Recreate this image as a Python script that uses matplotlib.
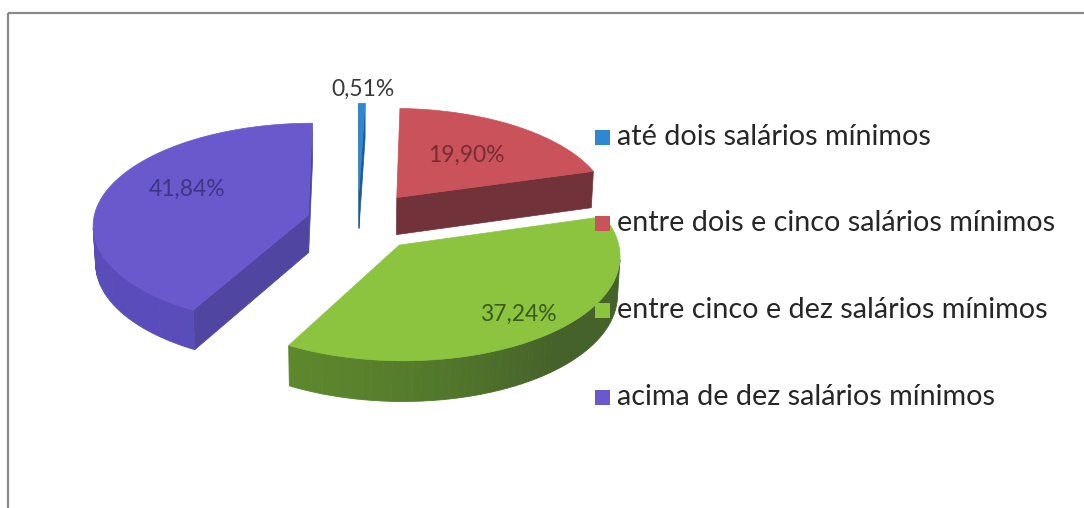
import numpy as np
import matplotlib.pyplot as plt
from matplotlib.patches import Polygon, Rectangle
from matplotlib.colors import to_rgb

plt.rcParams['font.family'] = ['Lato', 'DejaVu Sans']

# data
labels = ['até dois salários mínimos', 'entre dois e cinco salários mínimos',
          'entre cinco e dez salários mínimos', 'acima de dez salários mínimos']
values = [0.51, 19.90, 37.24, 41.84]
value_text = ['0,51%', '19,90%', '37,24%', '41,84%']

# colours (top face, side lit, side shaded, label text)
top_colors = ['#2f87d4', '#c9525b', '#8cc43f', '#6a59cd']
side_light = ['#2a6fb0', '#7a373d', '#5e8b2d', '#5a4dbb']
side_dark = ['#1f5a92', '#6b3136', '#45622a', '#5046a2']
label_colors = ['#3a3a3a', '#7a2c32', '#3b5a1c', '#3d3585']

# 3d pie layout (pixels / world units)
CX, CY = 358, 221
S = 215
alpha = np.radians(28)
D = 10.0
H = 0.2
explode = [0.3, 0.3, 0.3, 0.24]
light_dir = np.radians(230)
label_r = [1.18, 0.57, 0.80, 0.64]
label_shift = [0, 0, 0, 10]
levels = 32

sa, ca = np.sin(alpha), np.cos(alpha)
cam = np.array([0, D * sa, D * ca])


def proj(p):
    x, y, z = p
    yv = y * ca - z * sa
    zv = y * sa + z * ca
    f = D / (D - zv)
    return CX + S * x * f, CY - S * yv * f


def rim(o, th, y, r=1.0):
    t = np.radians(th)
    return np.array([o[0] + r * np.sin(t), y, o[2] - r * np.cos(t)])


def mix(c1, c2, t):
    a, b = np.array(to_rgb(c1)), np.array(to_rgb(c2))
    return tuple(a + (b - a) * t)


def shade_of(n):
    phi = np.arctan2(n[0], -n[2])
    return np.clip(np.cos(phi - light_dir), 0, 1)


fig = plt.figure(figsize=(10.84, 5.08), dpi=100)
ax = fig.add_axes([0, 0, 1, 1])
ax.set_xlim(0, 1084)
ax.set_ylim(508, 0)
ax.axis('off')

# frame of the chart area
ax.plot([8, 1084], [13, 13], color='#8a8a8a', lw=1.6, solid_capstyle='butt')
ax.plot([8, 8], [13, 508], color='#8a8a8a', lw=1.6, solid_capstyle='butt')

fracs = np.array(values) / sum(values)
edges = np.concatenate([[0], np.cumsum(fracs)]) * 360

slices = []
for i in range(len(values)):
    a0, a1 = edges[i], edges[i + 1]
    m = np.radians((a0 + a1) / 2)
    o = explode[i] * np.array([np.sin(m), 0, -np.cos(m)])
    slices.append((o[2] * ca, i, a0, a1, o))

for depth, i, a0, a1, o in sorted(slices, key=lambda s: s[0]):
    ths = np.linspace(a0, a1, max(3, int((a1 - a0) / 1.0) + 2))
    bot = o + np.array([0, -H, 0])

    # radial cut faces
    for th, sgn in ((a0, -1), (a1, 1)):
        t = np.radians(th)
        n = sgn * np.array([np.cos(t), 0, np.sin(t)])
        pts = [o, rim(o, th, 0), rim(o, th, -H), bot]
        if np.dot(n, cam - np.mean(pts, axis=0)) <= 0:
            continue
        col = mix(side_dark[i], side_light[i], shade_of(n))
        ax.add_patch(Polygon([proj(p) for p in pts], closed=True,
                             facecolor=col, edgecolor=col, lw=0.5))

    # outer wall, grouped into bands of equal shade
    groups = []
    for ta, tb in zip(ths[:-1], ths[1:]):
        tm = np.radians((ta + tb) / 2)
        n = np.array([np.sin(tm), 0, -np.cos(tm)])
        c = rim(o, (ta + tb) / 2, -H / 2)
        vis = np.dot(n, cam - c) > 0
        lvl = int(round(shade_of(n) * levels))
        if groups and groups[-1][0] == vis and groups[-1][1] == lvl:
            groups[-1][3] = tb
        else:
            groups.append([vis, lvl, ta, tb])
    for vis, lvl, ta, tb in groups:
        if not vis:
            continue
        ts = np.linspace(ta, tb, max(2, int(tb - ta) + 2))
        pts = [rim(o, t, 0) for t in ts] + [rim(o, t, -H) for t in ts[::-1]]
        col = mix(side_dark[i], side_light[i], lvl / levels)
        ax.add_patch(Polygon([proj(p) for p in pts], closed=True,
                             facecolor=col, edgecolor=col, lw=0.6))

    top = [o] + [rim(o, t, 0) for t in ths]
    ax.add_patch(Polygon([proj(p) for p in top], closed=True,
                         facecolor=top_colors[i], edgecolor=top_colors[i], lw=0.5))

# data labels
for i in range(len(values)):
    mid = (edges[i] + edges[i + 1]) / 2 + label_shift[i]
    lx, ly = proj(rim(slices[i][4], mid, 0, label_r[i]))
    ax.text(lx, ly, value_text[i], ha='center', va='center',
            fontsize=16.5, color=label_colors[i])

# legend
leg_y = [137, 223, 310, 397]
for i, lab in enumerate(labels):
    ax.add_patch(Rectangle((595, leg_y[i] - 7.5), 15, 15, facecolor=top_colors[i],
                           edgecolor='none'))
    ax.text(617, leg_y[i], lab, ha='left', va='center', fontsize=20.7,
            color='#262626')

fig.savefig('out.png', dpi=100)
